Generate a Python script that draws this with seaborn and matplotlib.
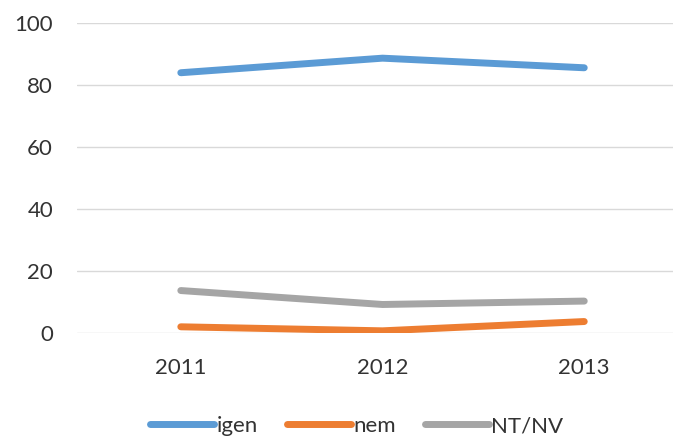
import numpy as np
import pandas as pd
import matplotlib
matplotlib.use("Agg")
import matplotlib.pyplot as plt
import seaborn as sns

years = ["2011", "2012", "2013"]
igen = [84.0, 88.7, 85.6]
nem = [2.0, 0.7, 3.7]
ntnv = [13.7, 9.2, 10.3]
series = ["igen", "nem", "NT/NV"]
colors = ["#5B9BD5", "#ED7D31", "#A5A5A5"]

sns.set_theme(style="white")
plt.rcParams["font.family"] = ["Lato", "DejaVu Sans"]

df = pd.DataFrame({
    "year": years * 3,
    "value": igen + nem + ntnv,
    "series": [s for s in series for _ in years],
})

fig = plt.figure(figsize=(6.73, 4.37), dpi=100)
ax = fig.add_axes([0.114, 0.238, 0.886, 0.709])
sns.lineplot(data=df, x="year", y="value", hue="series", palette=colors,
             linewidth=5, ax=ax, sort=False)
ax.set_ylim(0, 100)
ax.set_xlim(-0.516, 2.44)
ax.set_yticks(range(0, 101, 20))
ax.yaxis.grid(True, color="#D9D9D9", linewidth=1)
ax.xaxis.grid(False)
for s in ax.spines.values():
    s.set_visible(False)
ax.tick_params(axis="both", length=0, labelsize=16, colors="#333333")
ax.tick_params(axis="x", pad=18)
ax.tick_params(axis="y", pad=17)
ax.set_xlabel(""); ax.set_ylabel("")
ax.legend_.remove()
h, l = ax.get_legend_handles_labels()
fig.legend(h, l, loc="center", bbox_to_anchor=(0.53, 0.025), ncol=3, frameon=False,
           fontsize=16, handlelength=2.9, handletextpad=0.1, columnspacing=1.3,
           labelcolor="#333333", borderpad=0)
fig.savefig("out.png", dpi=100)
